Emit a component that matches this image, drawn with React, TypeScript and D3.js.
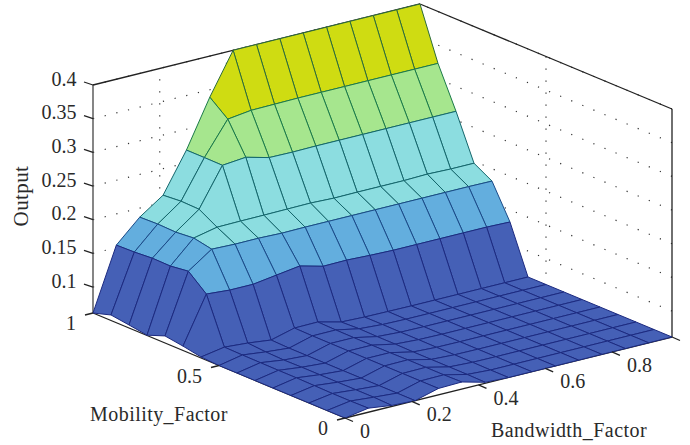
import React from "react";
import { line, scaleLinear, scaleThreshold } from "d3";

const bandwidthGrid = [0, 0.07, 0.14, 0.21, 0.28, 0.35, 0.42, 0.49, 0.56, 0.63, 0.7, 0.77, 0.84, 0.91, 0.98];
const mobilityGrid = [0, 0.0714, 0.1429, 0.2143, 0.2857, 0.3571, 0.4286, 0.5, 0.5714, 0.6429, 0.7143, 0.7857, 0.8571, 0.9286, 1];

// one row per mobility value, one column per bandwidth value
const outputRows = [
  [0.0615, 0.0675, 0.063, 0.0615, 0.071, 0.072, 0.063, 0.0615, 0.0615, 0.0615, 0.0615, 0.0615, 0.0615, 0.0615, 0.0615],
  [0.0615, 0.067, 0.064, 0.0615, 0.071, 0.0715, 0.0635, 0.0615, 0.0615, 0.0615, 0.0615, 0.0615, 0.0615, 0.0615, 0.0615],
  [0.0615, 0.067, 0.064, 0.0615, 0.071, 0.0715, 0.0635, 0.0618, 0.0615, 0.0615, 0.0615, 0.0615, 0.0615, 0.0615, 0.0615],
  [0.0615, 0.0675, 0.064, 0.0615, 0.071, 0.0715, 0.0635, 0.0618, 0.0615, 0.0615, 0.0615, 0.0615, 0.0615, 0.0615, 0.0615],
  [0.0615, 0.068, 0.064, 0.0615, 0.071, 0.071, 0.0635, 0.0618, 0.0615, 0.0615, 0.0615, 0.0615, 0.0615, 0.0615, 0.0615],
  [0.0615, 0.068, 0.064, 0.0615, 0.071, 0.071, 0.064, 0.062, 0.0615, 0.0615, 0.0615, 0.0615, 0.0615, 0.0615, 0.0615],
  [0.0615, 0.0682, 0.0636, 0.0615, 0.071, 0.071, 0.064, 0.062, 0.0615, 0.0615, 0.0615, 0.0615, 0.0615, 0.0615, 0.0615],
  [0.0615, 0.0685, 0.0645, 0.0615, 0.0711, 0.0713, 0.0645, 0.0622, 0.0615, 0.0615, 0.0615, 0.0615, 0.0615, 0.0615, 0.0615],
  [0.063, 0.069, 0.0665, 0.0624, 0.0716, 0.072, 0.0634, 0.0622, 0.0618, 0.0615, 0.0615, 0.0615, 0.0615, 0.0615, 0.0615],
  [0.068, 0.1367, 0.134, 0.134, 0.139, 0.144, 0.135, 0.1355, 0.134, 0.133, 0.133, 0.133, 0.133, 0.133, 0.132],
  [0.072, 0.1595, 0.1836, 0.1825, 0.1827, 0.1816, 0.182, 0.182, 0.182, 0.182, 0.182, 0.182, 0.182, 0.182, 0.1816],
  [0.062, 0.156, 0.189, 0.1965, 0.197, 0.1972, 0.1976, 0.198, 0.1967, 0.197, 0.197, 0.197, 0.198, 0.197, 0.197],
  [0.066, 0.1565, 0.1866, 0.212, 0.2687, 0.272, 0.263, 0.2625, 0.263, 0.263, 0.263, 0.263, 0.263, 0.263, 0.263],
  [0.0697, 0.1545, 0.1875, 0.2128, 0.269, 0.3175, 0.322, 0.3225, 0.323, 0.323, 0.323, 0.323, 0.323, 0.323, 0.323],
  [0.0615, 0.1537, 0.1866, 0.2106, 0.269, 0.339, 0.4, 0.4, 0.4, 0.4, 0.4, 0.4, 0.4, 0.4, 0.4],
];

const bandwidthTicks = [0, 0.2, 0.4, 0.6, 0.8];
const mobilityTicks = [0, 0.5, 1];
const outputTicks = [0.1, 0.15, 0.2, 0.25, 0.3, 0.35, 0.4];

const bandLimits = [0.13, 0.178, 0.26, 0.33];
const bandFills = ["#4560b6", "#63aede", "#8cdde0", "#a6e68e", "#cfdc12"];
const bandLines = ["#1c2a80", "#1a4a88", "#14666c", "#1b7a4a", "#2c6c3a"];

const BW_MAX = 0.98;
const Z_MIN = 0.0615;

const fillScale = scaleThreshold<number, string>().domain(bandLimits).range(bandFills);
const edgeScale = scaleThreshold<number, string>().domain(bandLimits).range(bandLines);

// oblique box: unit vectors
const bwX = scaleLinear().domain([0, BW_MAX]).range([0, 327]);
const bwY = scaleLinear().domain([0, BW_MAX]).range([0, -81]);
const mobX = scaleLinear().domain([0, 1]).range([0, -252]);
const mobY = scaleLinear().domain([0, 1]).range([0, -105]);
const zY = scaleLinear().domain([Z_MIN, 0.4]).range([0, -228]);

const project = (b: number, m: number, z: number = Z_MIN): [number, number] => [
  345 + bwX(b) + mobX(m),
  418 + bwY(b) + mobY(m) + zY(z),
];

const path = line<[number, number]>();
const seg = (a: [number, number], b: [number, number]) => path([a, b]) || "";

const serif = "'Liberation Serif', serif";

export default function App() {
  const quads: React.ReactElement[] = [];
  // painter's order, back corner first
  for (let j = mobilityGrid.length - 2; j >= 0; j--) {
    for (let i = bandwidthGrid.length - 2; i >= 0; i--) {
      const zs = [outputRows[j][i], outputRows[j][i + 1], outputRows[j + 1][i + 1], outputRows[j + 1][i]];
      const mean = (zs[0] + zs[1] + zs[2] + zs[3]) / 4;
      const pts = [
        project(bandwidthGrid[i], mobilityGrid[j], zs[0]),
        project(bandwidthGrid[i + 1], mobilityGrid[j], zs[1]),
        project(bandwidthGrid[i + 1], mobilityGrid[j + 1], zs[2]),
        project(bandwidthGrid[i], mobilityGrid[j + 1], zs[3]),
      ];
      quads.push(
        <path
          key={j + "-" + i}
          d={path(pts) + "Z"}
          fill={fillScale(mean)}
          stroke={edgeScale(mean)}
          strokeWidth={1}
          strokeLinejoin="round"
        />
      );
    }
  }

  const dots = { stroke: "#333", strokeWidth: 1.2, strokeDasharray: "1.2 10.8", fill: "none" };
  const axis = { stroke: "#222", strokeWidth: 1.3, fill: "none" };
  const label = { fontFamily: serif, fontSize: 20, fill: "#2a2a2a" };

  return (
    <svg width={690} height={445} style={{ position: "absolute", left: 0, top: 0 }}>
      <g>
        {outputTicks.map((t) => (
          <g key={t}>
            <path d={seg(project(0, 1, t), project(BW_MAX, 1, t))} {...dots} />
            <path d={seg(project(BW_MAX, 0, t), project(BW_MAX, 1, t))} {...dots} />
          </g>
        ))}
        {bandwidthTicks.slice(1).map((t) => (
          <path key={t} d={seg(project(t, 1), project(t, 1, 0.4))} {...dots} />
        ))}
        <path d={seg(project(BW_MAX, 0.5, 0.4), project(BW_MAX, 0.5))} {...dots} />
      </g>

      <path d={seg(project(0, 1, 0.4), project(BW_MAX, 1, 0.4))} {...axis} />
      <path d={seg(project(BW_MAX, 1, 0.4), project(BW_MAX, 0, 0.4))} {...axis} />
      <path d={seg(project(BW_MAX, 0, 0.4), project(BW_MAX, 0))} {...axis} />
      <path d={seg(project(0, 1, 0.4), project(0, 1))} {...axis} stroke="#444" />
      <path d={seg(project(0, 1), project(0, 0))} {...axis} />
      <path d={seg(project(0, 0), project(BW_MAX, 0))} {...axis} />

      <g>{quads}</g>

      {outputTicks.map((t) => {
        const [x, y] = project(0, 1, t);
        return (
          <g key={t}>
            <path d={`M${x},${y}L${x - 9},${y - 3}`} {...axis} />
            <text x={76.5} y={y + 0.5} textAnchor="end" {...label}>
              {t}
            </text>
          </g>
        );
      })}
      {bandwidthTicks.map((t) => {
        const [x, y] = project(t, 0);
        return (
          <g key={t}>
            <path d={`M${x},${y}L${x + 8},${y + 3.5}`} {...axis} />
            <text x={x + 15} y={y + 20} {...label}>
              {t}
            </text>
          </g>
        );
      })}
      <path d={`M672,337L680,340.5`} {...axis} />
      {mobilityTicks.map((t) => {
        const [x, y] = project(0, t);
        return (
          <g key={t}>
            <path d={`M${x},${y}L${x - 8},${y + 2}`} {...axis} />
            <text x={x - 17} y={y + 17} textAnchor="end" {...label}>
              {t}
            </text>
          </g>
        );
      })}

      <text x={90} y={421} {...label} letterSpacing={0.45}>
        Mobility_Factor
      </text>
      <text x={491} y={437} {...label} letterSpacing={0.45}>
        Bandwidth_Factor
      </text>
      <text transform="translate(28,196) rotate(-90)" textAnchor="middle" {...label} fontSize={21} letterSpacing={0.4}>
        Output
      </text>
    </svg>
  );
}
